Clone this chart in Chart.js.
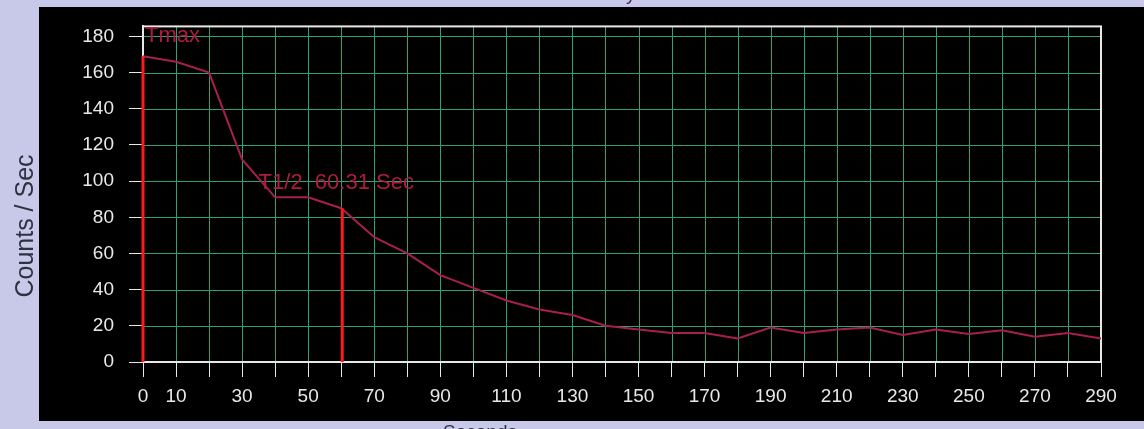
<!DOCTYPE html>
<html>
<head>
<meta charset="utf-8">
<script src="https://cdn.jsdelivr.net/npm/chart.js@4/dist/chart.umd.min.js"></script>
<style>
  html, body { margin: 0; padding: 0; background: #c8c8e8; }
  #wrap { width: 1144px; height: 429px; }
</style>
</head>
<body>
<div id="wrap"><canvas id="myChart" width="1144" height="429"></canvas></div>
<script>
// seconds / counts per sec
const seconds = [0, 10, 20, 30, 40, 50, 60, 70, 80, 90, 100, 110, 120, 130, 140,
  150, 160, 170, 180, 190, 200, 210, 220, 230, 240, 250, 260, 270, 280, 290];
const counts = [169, 166, 160, 112, 91, 91, 85, 69, 60, 48, 41, 34, 29, 26, 20,
  18, 16, 16, 13, 19, 16, 18, 19, 15, 18, 15.5, 17.5, 14, 16, 13];

// Tmax and T1/2 markers
const markerNames = ['Tmax', 'T1/2  60.31 Sec'];
const markerTimes = [0, 60.31];
const markerHeights = [169, 85];

const xTickLabels = [0, 10, 30, 50, 70, 90, 110, 130, 150, 170, 190, 210, 230, 250, 270, 290];
const yTickLabels = [0, 20, 40, 60, 80, 100, 120, 140, 160, 180];

const FONT = '"Liberation Sans", Arial, sans-serif';
const teal = '#2f9f80';
const white = '#e8e8e8';

const framePlugin = {
  id: 'frame',
  beforeDraw(chart) {
    const c = chart.ctx;
    c.save();
    c.fillStyle = '#c8c8e8';
    c.fillRect(0, 0, chart.width, chart.height);
    c.fillStyle = '#000';
    c.fillRect(39, 7, chart.width - 39, 414);
    c.fillStyle = '#303040';
    c.font = '19px ' + FONT;
    c.textAlign = 'center';
    c.textBaseline = 'alphabetic';
    c.fillText('Left Kidney', 588, 0);
    c.textBaseline = 'top';
    c.fillText('Seconds', 480, 423);
    c.font = '25px ' + FONT;
    c.translate(33, 226);
    c.rotate(-Math.PI / 2);
    c.textBaseline = 'alphabetic';
    c.fillText('Counts / Sec', 0, 0);
    c.restore();
  },
  beforeDatasetsDraw(chart) {
    const a = chart.chartArea;
    const c = chart.ctx;
    const xs = chart.scales.x, ys = chart.scales.y;
    c.save();
    c.lineWidth = 1;
    c.strokeStyle = teal;
    c.beginPath();
    xs.ticks.forEach(t => {
      if (t.value <= 0 || t.value >= 290) return;
      const px = Math.round(xs.getPixelForValue(t.value)) + 0.5;
      c.moveTo(px, a.top);
      c.lineTo(px, a.bottom);
    });
    ys.ticks.forEach(t => {
      if (t.value <= 0) return;
      const py = Math.round(ys.getPixelForValue(t.value)) + 0.5;
      c.moveTo(a.left, py);
      c.lineTo(a.right, py);
    });
    c.stroke();
    c.strokeStyle = white;
    c.lineWidth = 2;
    c.strokeRect(a.left, a.top, a.right - a.left, a.bottom - a.top);
    c.restore();
  },
  afterDatasetsDraw(chart) {
    const c = chart.ctx;
    const xs = chart.scales.x, ys = chart.scales.y;
    c.save();
    c.fillStyle = '#b01c3c';
    c.font = '22px ' + FONT;
    c.textBaseline = 'middle';
    c.textAlign = 'left';
    c.fillText(markerNames[0], xs.getPixelForValue(markerTimes[0]) + 2, ys.getPixelForValue(180));
    c.fillText(markerNames[1], xs.getPixelForValue(35), ys.getPixelForValue(99));
    c.restore();
  }
};

const points = seconds.map((s, i) => ({ x: s, y: counts[i] }));
const markerSets = markerTimes.map((t, i) => ({
  data: [{ x: t, y: 0 }, { x: t, y: markerHeights[i] }],
  borderColor: '#ff1a1a',
  borderWidth: 3,
  pointRadius: 0,
  clip: false,
  order: 0
}));

new Chart(document.getElementById('myChart'), {
  type: 'line',
  data: {
    datasets: [
      {
        data: points,
        borderColor: '#a8204a',
        borderWidth: 2,
        pointRadius: 0,
        tension: 0,
        order: 1
      },
      ...markerSets
    ]
  },
  options: {
    responsive: false,
    animation: false,
    devicePixelRatio: 1,
    layout: { padding: { top: 22, right: 43, left: 0, bottom: 0 } },
    plugins: { legend: { display: false }, tooltip: { enabled: false } },
    scales: {
      x: {
        type: 'linear',
        min: 0,
        max: 290,
        afterFit(s) { s.height = 67; },
        ticks: {
          stepSize: 10,
          autoSkip: false,
          maxRotation: 0,
          color: white,
          padding: 8,
          font: { size: 19, family: FONT },
          callback: v => xTickLabels.includes(v) ? String(v) : ''
        },
        grid: {
          drawOnChartArea: false,
          color: white,
          tickColor: white,
          tickLength: 15,
          lineWidth: 1
        },
        border: { color: white, width: 2 }
      },
      y: {
        min: 0,
        max: 185.5,
        afterFit(s) { s.width = 143; },
        afterBuildTicks(s) { s.ticks = yTickLabels.map(v => ({ value: v })); },
        ticks: {
          color: white,
          padding: 15,
          font: { size: 19, family: FONT },
          callback: v => String(v)
        },
        grid: {
          drawOnChartArea: false,
          color: white,
          tickColor: white,
          tickLength: 14,
          lineWidth: 1
        },
        border: { color: white, width: 2 }
      }
    }
  },
  plugins: [framePlugin]
});
</script>
</body>
</html>
